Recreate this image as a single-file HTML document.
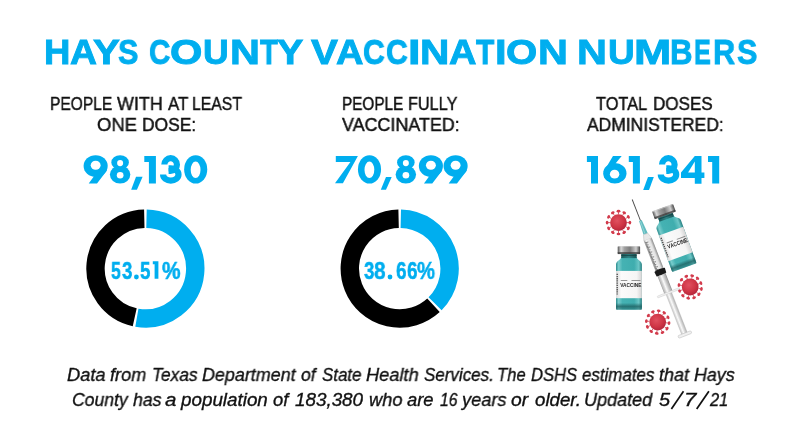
<!DOCTYPE html>
<html><head><meta charset="utf-8">
<style>
html,body{margin:0;padding:0;background:#fff;width:800px;height:443px;overflow:hidden;position:relative}
.t{position:absolute;transform-origin:0 0;will-change:transform;white-space:nowrap;font-family:"Liberation Sans",sans-serif;line-height:1}
</style></head><body>
<!--TEXT-->
<div class="t" id="tl0" style="left:43.99px;top:35.26px;font-size:35.60px;transform:scaleX(1.0252);font-weight:bold;color:#00AEEF;-webkit-text-stroke:0.9px #00AEEF;">H</div>
<div class="t" id="tl1" style="left:70.17px;top:35.26px;font-size:35.60px;transform:scaleX(1.0500);font-weight:bold;color:#00AEEF;-webkit-text-stroke:0.9px #00AEEF;">A</div>
<div class="t" id="tl2" style="left:93.24px;top:35.26px;font-size:35.60px;transform:scaleX(1.1317);font-weight:bold;color:#00AEEF;-webkit-text-stroke:0.9px #00AEEF;">Y</div>
<div class="t" id="tl3" style="left:118.31px;top:35.26px;font-size:35.60px;transform:scaleX(0.8562);font-weight:bold;color:#00AEEF;-webkit-text-stroke:0.9px #00AEEF;">S</div>
<div class="t" id="tl4" style="left:148.74px;top:35.26px;font-size:35.60px;transform:scaleX(0.8283);font-weight:bold;color:#00AEEF;-webkit-text-stroke:0.9px #00AEEF;">C</div>
<div class="t" id="tl5" style="left:170.22px;top:35.26px;font-size:35.60px;transform:scaleX(1.1692);font-weight:bold;color:#00AEEF;-webkit-text-stroke:0.9px #00AEEF;">O</div>
<div class="t" id="tl6" style="left:202.68px;top:35.26px;font-size:35.60px;transform:scaleX(0.9932);font-weight:bold;color:#00AEEF;-webkit-text-stroke:0.9px #00AEEF;">U</div>
<div class="t" id="tl7" style="left:229.72px;top:35.26px;font-size:35.60px;transform:scaleX(1.1650);font-weight:bold;color:#00AEEF;-webkit-text-stroke:0.9px #00AEEF;">N</div>
<div class="t" id="tl8" style="left:259.58px;top:35.26px;font-size:35.60px;transform:scaleX(0.8127);font-weight:bold;color:#00AEEF;-webkit-text-stroke:0.9px #00AEEF;">T</div>
<div class="t" id="tl9" style="left:276.75px;top:35.26px;font-size:35.60px;transform:scaleX(1.1095);font-weight:bold;color:#00AEEF;-webkit-text-stroke:0.9px #00AEEF;">Y</div>
<div class="t" id="tl10" style="left:311.43px;top:35.26px;font-size:35.60px;transform:scaleX(1.1347);font-weight:bold;color:#00AEEF;-webkit-text-stroke:0.9px #00AEEF;">V</div>
<div class="t" id="tl11" style="left:335.65px;top:35.26px;font-size:35.60px;transform:scaleX(1.0706);font-weight:bold;color:#00AEEF;-webkit-text-stroke:0.9px #00AEEF;">A</div>
<div class="t" id="tl12" style="left:363.20px;top:35.26px;font-size:35.60px;transform:scaleX(0.8496);font-weight:bold;color:#00AEEF;-webkit-text-stroke:0.9px #00AEEF;">C</div>
<div class="t" id="tl13" style="left:385.70px;top:35.26px;font-size:35.60px;transform:scaleX(0.8496);font-weight:bold;color:#00AEEF;-webkit-text-stroke:0.9px #00AEEF;">C</div>
<div class="t" id="tl14" style="left:407.52px;top:35.26px;font-size:35.60px;transform:scaleX(1.2678);font-weight:bold;color:#00AEEF;-webkit-text-stroke:0.9px #00AEEF;">I</div>
<div class="t" id="tl15" style="left:420.27px;top:35.26px;font-size:35.60px;transform:scaleX(1.1417);font-weight:bold;color:#00AEEF;-webkit-text-stroke:0.9px #00AEEF;">N</div>
<div class="t" id="tl16" style="left:449.15px;top:35.26px;font-size:35.60px;transform:scaleX(1.0706);font-weight:bold;color:#00AEEF;-webkit-text-stroke:0.9px #00AEEF;">A</div>
<div class="t" id="tl17" style="left:476.07px;top:35.26px;font-size:35.60px;transform:scaleX(0.8366);font-weight:bold;color:#00AEEF;-webkit-text-stroke:0.9px #00AEEF;">T</div>
<div class="t" id="tl18" style="left:494.70px;top:35.26px;font-size:35.60px;transform:scaleX(1.1772);font-weight:bold;color:#00AEEF;-webkit-text-stroke:0.9px #00AEEF;">I</div>
<div class="t" id="tl19" style="left:506.28px;top:35.26px;font-size:35.60px;transform:scaleX(1.1289);font-weight:bold;color:#00AEEF;-webkit-text-stroke:0.9px #00AEEF;">O</div>
<div class="t" id="tl20" style="left:537.72px;top:35.26px;font-size:35.60px;transform:scaleX(1.1650);font-weight:bold;color:#00AEEF;-webkit-text-stroke:0.9px #00AEEF;">N</div>
<div class="t" id="tl21" style="left:576.72px;top:35.26px;font-size:35.60px;transform:scaleX(1.1650);font-weight:bold;color:#00AEEF;-webkit-text-stroke:0.9px #00AEEF;">N</div>
<div class="t" id="tl22" style="left:607.59px;top:35.26px;font-size:35.60px;transform:scaleX(1.0394);font-weight:bold;color:#00AEEF;-webkit-text-stroke:0.9px #00AEEF;">U</div>
<div class="t" id="tl23" style="left:633.54px;top:35.26px;font-size:35.60px;transform:scaleX(1.2579);font-weight:bold;color:#00AEEF;-webkit-text-stroke:0.9px #00AEEF;">M</div>
<div class="t" id="tl24" style="left:670.29px;top:35.26px;font-size:35.60px;transform:scaleX(0.8756);font-weight:bold;color:#00AEEF;-webkit-text-stroke:0.9px #00AEEF;">B</div>
<div class="t" id="tl25" style="left:694.11px;top:35.26px;font-size:35.60px;transform:scaleX(0.7081);font-weight:bold;color:#00AEEF;-webkit-text-stroke:0.9px #00AEEF;">E</div>
<div class="t" id="tl26" style="left:712.81px;top:35.26px;font-size:35.60px;transform:scaleX(0.8618);font-weight:bold;color:#00AEEF;-webkit-text-stroke:0.9px #00AEEF;">R</div>
<div class="t" id="tl27" style="left:736.81px;top:35.26px;font-size:35.60px;transform:scaleX(0.8562);font-weight:bold;color:#00AEEF;-webkit-text-stroke:0.9px #00AEEF;">S</div>
<div class="t" id="s1a0" style="left:49.50px;top:94.84px;font-size:18.84px;transform:scaleX(0.8266);color:#111;-webkit-text-stroke:0.45px #111;">PEOPLE</div>
<div class="t" id="s1a1" style="left:116.75px;top:94.84px;font-size:18.84px;transform:scaleX(0.9522);color:#111;-webkit-text-stroke:0.45px #111;">WITH</div>
<div class="t" id="s1a2" style="left:167.95px;top:94.84px;font-size:18.84px;transform:scaleX(0.8921);color:#111;-webkit-text-stroke:0.45px #111;">AT</div>
<div class="t" id="s1a3" style="left:191.99px;top:94.84px;font-size:18.84px;transform:scaleX(0.8376);color:#111;-webkit-text-stroke:0.45px #111;">LEAST</div>
<div class="t" id="s1b0" style="left:96.86px;top:116.04px;font-size:18.84px;transform:scaleX(0.9796);color:#111;-webkit-text-stroke:0.45px #111;">ONE</div>
<div class="t" id="s1b1" style="left:141.77px;top:116.04px;font-size:18.84px;transform:scaleX(0.9260);color:#111;-webkit-text-stroke:0.45px #111;">DOSE:</div>
<div class="t" id="s2a0" style="left:342.32px;top:94.84px;font-size:18.84px;transform:scaleX(0.8137);color:#111;-webkit-text-stroke:0.45px #111;">PEOPLE</div>
<div class="t" id="s2a1" style="left:408.16px;top:94.84px;font-size:18.84px;transform:scaleX(0.8631);color:#111;-webkit-text-stroke:0.45px #111;">FULLY</div>
<div class="t" id="s2b" style="left:342.23px;top:116.24px;font-size:18.84px;transform:scaleX(0.9504);color:#111;-webkit-text-stroke:0.45px #111;">VACCINATED:</div>
<div class="t" id="s3a0" style="left:595.98px;top:94.84px;font-size:18.84px;transform:scaleX(0.8671);color:#111;-webkit-text-stroke:0.45px #111;">TOTAL</div>
<div class="t" id="s3a1" style="left:652.90px;top:94.84px;font-size:18.84px;transform:scaleX(0.9066);color:#111;-webkit-text-stroke:0.45px #111;">DOSES</div>
<div class="t" id="s3b" style="left:586.84px;top:116.24px;font-size:18.84px;transform:scaleX(0.9268);color:#111;-webkit-text-stroke:0.45px #111;">ADMINISTERED:</div>
<div class="t" id="p1_0" style="left:110.59px;top:258.63px;font-size:24.40px;transform:scaleX(0.7222);font-weight:bold;color:#00AEEF;-webkit-text-stroke:0.5px #00AEEF;">5</div>
<div class="t" id="p1_1" style="left:121.51px;top:258.63px;font-size:24.40px;transform:scaleX(0.7650);font-weight:bold;color:#00AEEF;-webkit-text-stroke:0.5px #00AEEF;">3</div>
<div class="t" id="p1_2" style="left:140.15px;top:258.63px;font-size:24.40px;transform:scaleX(0.7715);font-weight:bold;color:#00AEEF;-webkit-text-stroke:0.5px #00AEEF;">5</div>
<div class="t" id="p1_3" style="left:162.44px;top:258.63px;font-size:24.40px;transform:scaleX(0.8541);font-weight:bold;color:#00AEEF;-webkit-text-stroke:0.5px #00AEEF;">%</div>
<div class="t" id="p2_0" style="left:364.01px;top:258.63px;font-size:24.40px;transform:scaleX(0.7650);font-weight:bold;color:#00AEEF;-webkit-text-stroke:0.5px #00AEEF;">3</div>
<div class="t" id="p2_1" style="left:374.36px;top:258.63px;font-size:24.40px;transform:scaleX(0.8554);font-weight:bold;color:#00AEEF;-webkit-text-stroke:0.5px #00AEEF;">8</div>
<div class="t" id="p2_2" style="left:395.87px;top:258.63px;font-size:24.40px;transform:scaleX(0.7761);font-weight:bold;color:#00AEEF;-webkit-text-stroke:0.5px #00AEEF;">6</div>
<div class="t" id="p2_3" style="left:407.37px;top:258.63px;font-size:24.40px;transform:scaleX(0.7761);font-weight:bold;color:#00AEEF;-webkit-text-stroke:0.5px #00AEEF;">6</div>
<div class="t" id="p2_4" style="left:416.96px;top:258.63px;font-size:24.40px;transform:scaleX(0.8297);font-weight:bold;color:#00AEEF;-webkit-text-stroke:0.5px #00AEEF;">%</div>
<div class="t" id="f1_0" style="left:66.77px;top:366.44px;font-size:18.40px;transform:scaleX(0.9936);font-style:italic;color:#111;-webkit-text-stroke:0.35px #111;">Data</div>
<div class="t" id="f1_1" style="left:110.42px;top:366.44px;font-size:18.40px;transform:scaleX(0.9856);font-style:italic;color:#111;-webkit-text-stroke:0.35px #111;">from</div>
<div class="t" id="f1_2" style="left:151.53px;top:366.44px;font-size:18.40px;transform:scaleX(0.9411);font-style:italic;color:#111;-webkit-text-stroke:0.35px #111;">Texas</div>
<div class="t" id="f1_3" style="left:201.88px;top:366.44px;font-size:18.40px;transform:scaleX(0.9739);font-style:italic;color:#111;-webkit-text-stroke:0.35px #111;">Department</div>
<div class="t" id="f1_4" style="left:301.16px;top:366.44px;font-size:18.40px;transform:scaleX(0.9525);font-style:italic;color:#111;-webkit-text-stroke:0.35px #111;">of</div>
<div class="t" id="f1_5" style="left:321.68px;top:366.44px;font-size:18.40px;transform:scaleX(0.9186);font-style:italic;color:#111;-webkit-text-stroke:0.35px #111;">State</div>
<div class="t" id="f1_6" style="left:366.07px;top:366.44px;font-size:18.40px;transform:scaleX(0.9904);font-style:italic;color:#111;-webkit-text-stroke:0.35px #111;">Health</div>
<div class="t" id="f1_7" style="left:423.57px;top:366.44px;font-size:18.40px;transform:scaleX(0.9239);font-style:italic;color:#111;-webkit-text-stroke:0.35px #111;">Services.</div>
<div class="t" id="f1_8" style="left:496.98px;top:366.44px;font-size:18.40px;transform:scaleX(0.9049);font-style:italic;color:#111;-webkit-text-stroke:0.35px #111;">The</div>
<div class="t" id="f1_9" style="left:530.61px;top:366.44px;font-size:18.40px;transform:scaleX(0.9033);font-style:italic;color:#111;-webkit-text-stroke:0.35px #111;">DSHS</div>
<div class="t" id="f1_10" style="left:582.16px;top:366.44px;font-size:18.40px;transform:scaleX(0.9191);font-style:italic;color:#111;-webkit-text-stroke:0.35px #111;">estimates</div>
<div class="t" id="f1_11" style="left:658.97px;top:366.44px;font-size:18.40px;transform:scaleX(0.9823);font-style:italic;color:#111;-webkit-text-stroke:0.35px #111;">that</div>
<div class="t" id="f1_12" style="left:693.58px;top:366.44px;font-size:18.40px;transform:scaleX(0.9702);font-style:italic;color:#111;-webkit-text-stroke:0.35px #111;">Hays</div>
<div class="t" id="f2_0" style="left:71.56px;top:390.94px;font-size:18.40px;transform:scaleX(0.9570);font-style:italic;color:#111;-webkit-text-stroke:0.35px #111;">County</div>
<div class="t" id="f2_1" style="left:132.63px;top:390.94px;font-size:18.40px;transform:scaleX(0.9586);font-style:italic;color:#111;-webkit-text-stroke:0.35px #111;">has</div>
<div class="t" id="f2_2" style="left:165.40px;top:390.94px;font-size:18.40px;transform:scaleX(1.1134);font-style:italic;color:#111;-webkit-text-stroke:0.35px #111;">a</div>
<div class="t" id="f2_3" style="left:180.94px;top:390.94px;font-size:18.40px;transform:scaleX(1.0230);font-style:italic;color:#111;-webkit-text-stroke:0.35px #111;">population</div>
<div class="t" id="f2_4" style="left:272.94px;top:390.94px;font-size:18.40px;transform:scaleX(0.9947);font-style:italic;color:#111;-webkit-text-stroke:0.35px #111;">of</div>
<div class="t" id="f2_5" style="left:295.02px;top:390.94px;font-size:18.40px;transform:scaleX(1.0238);font-style:italic;color:#111;-webkit-text-stroke:0.35px #111;">183,380</div>
<div class="t" id="f2_6" style="left:368.52px;top:390.94px;font-size:18.40px;transform:scaleX(0.9933);font-style:italic;color:#111;-webkit-text-stroke:0.35px #111;">who</div>
<div class="t" id="f2_7" style="left:406.74px;top:390.94px;font-size:18.40px;transform:scaleX(0.9994);font-style:italic;color:#111;-webkit-text-stroke:0.35px #111;">are</div>
<div class="t" id="f2_8" style="left:439.58px;top:390.94px;font-size:18.40px;transform:scaleX(0.8548);font-style:italic;color:#111;-webkit-text-stroke:0.35px #111;">16</div>
<div class="t" id="f2_9" style="left:461.94px;top:390.94px;font-size:18.40px;transform:scaleX(0.9888);font-style:italic;color:#111;-webkit-text-stroke:0.35px #111;">years</div>
<div class="t" id="f2_10" style="left:511.01px;top:390.94px;font-size:18.40px;transform:scaleX(1.0492);font-style:italic;color:#111;-webkit-text-stroke:0.35px #111;">or</div>
<div class="t" id="f2_11" style="left:534.63px;top:390.94px;font-size:18.40px;transform:scaleX(1.0156);font-style:italic;color:#111;-webkit-text-stroke:0.35px #111;">older.</div>
<div class="t" id="f2_12" style="left:584.01px;top:390.94px;font-size:18.40px;transform:scaleX(0.9808);font-style:italic;color:#111;-webkit-text-stroke:0.35px #111;">Updated</div>
<div class="t" id="f2_13_0" style="left:659.22px;top:390.94px;font-size:18.40px;transform:scaleX(1.0817);font-style:italic;color:#111;-webkit-text-stroke:0.35px #111;">5</div>
<div class="t" id="f2_13_1" style="left:683.65px;top:390.94px;font-size:18.40px;transform:scaleX(1.2105);font-style:italic;color:#111;-webkit-text-stroke:0.35px #111;">7</div>
<div class="t" id="f2_13_2" style="left:709.74px;top:390.94px;font-size:18.40px;transform:scaleX(0.8911);font-style:italic;color:#111;-webkit-text-stroke:0.35px #111;">21</div>
<!--/TEXT-->
<svg width="800" height="443" style="position:absolute;left:0;top:0">
<defs>
<radialGradient id="vg" cx="0.42" cy="0.38" r="0.65"><stop offset="0" stop-color="#e0505f"/><stop offset="0.6" stop-color="#cf3646"/><stop offset="1" stop-color="#b3243a"/></radialGradient>
<linearGradient id="capg" x1="0" x2="1"><stop offset="0" stop-color="#555"/><stop offset="0.15" stop-color="#d8d8d8"/><stop offset="0.3" stop-color="#a0a0a0"/><stop offset="0.55" stop-color="#7c7c7c"/><stop offset="0.82" stop-color="#cfcfcf"/><stop offset="1" stop-color="#4a4a4a"/></linearGradient>
<linearGradient id="tealg" x1="0" x2="1"><stop offset="0" stop-color="#2b8c8e"/><stop offset="0.1" stop-color="#78cccc"/><stop offset="0.25" stop-color="#45b2b3"/><stop offset="0.7" stop-color="#3fadae"/><stop offset="0.88" stop-color="#6cc6c6"/><stop offset="1" stop-color="#267e80"/></linearGradient>
<linearGradient id="neckg" x1="0" x2="1"><stop offset="0" stop-color="#1c5c5d"/><stop offset="0.5" stop-color="#2f8586"/><stop offset="1" stop-color="#1a5354"/></linearGradient>
<linearGradient id="labg" x1="0" x2="1"><stop offset="0" stop-color="#d9d9d9"/><stop offset="0.2" stop-color="#fbfbfb"/><stop offset="0.8" stop-color="#f5f5f5"/><stop offset="1" stop-color="#d4d4d4"/></linearGradient>
<linearGradient id="botg" x1="0" x2="0" y1="0" y2="1"><stop offset="0" stop-color="#1d5e5f" stop-opacity="0"/><stop offset="0.5" stop-color="#1d5e5f" stop-opacity="0.75"/><stop offset="1" stop-color="#1d5e5f" stop-opacity="0.35"/></linearGradient>
<linearGradient id="barg" x1="0" x2="1"><stop offset="0" stop-color="#9a9a9a"/><stop offset="0.25" stop-color="#f4f4f4"/><stop offset="0.7" stop-color="#e2e2e2"/><stop offset="1" stop-color="#8a8a8a"/></linearGradient>
<linearGradient id="rodg" x1="0" x2="1"><stop offset="0" stop-color="#c4c4c4"/><stop offset="0.4" stop-color="#fafafa"/><stop offset="1" stop-color="#b0b0b0"/></linearGradient>
<g id="vial">
<path d="M-7.8,11 C-8,14.5 -13,14.5 -13,18.5 L-13,62.4 Q-13,63.9 -11.5,63.9 L11.4,63.9 Q12.9,63.9 12.9,62.4 L12.9,18.5 C12.9,14.5 7.9,14.5 7.7,11 Z" fill="url(#tealg)"/>
<rect x="-7.8" y="7.6" width="15.5" height="4.6" fill="url(#neckg)"/>
<rect x="-7.8" y="9" width="15.5" height="1.2" fill="#123d3e" opacity="0.7"/>
<rect x="-13" y="25" width="25.9" height="27.3" fill="url(#labg)"/>
<rect x="-13" y="57" width="25.9" height="6.9" fill="url(#botg)"/>
<rect x="-11.3" y="0" width="22.4" height="8.2" rx="1.2" fill="url(#capg)"/>
<rect x="-11.3" y="6.2" width="22.4" height="2" fill="#3a3a3a" opacity="0.75"/>
<rect x="-11" y="0.2" width="21.8" height="0.8" fill="#ddd" opacity="0.6"/>
<text x="-8.7" y="40.7" font-family="Liberation Sans" font-weight="bold" font-size="6" fill="#1e1e1e" textLength="21" lengthAdjust="spacingAndGlyphs">VACCINE</text>
<rect x="-8.2" y="34.2" width="6.5" height="0.9" fill="#8a8a8a"/><rect x="2.5" y="34.2" width="9" height="0.9" fill="#8a8a8a"/>
<g stroke="#444" stroke-width="1.3" stroke-dasharray="1.3 0.9"><line x1="-11.8" y1="27.8" x2="-11.8" y2="48.6"/></g>
</g>
</defs>
<ellipse cx="95.65" cy="166.00" rx="12.05" ry="10.8" fill="#00AEEF"/><polygon points="88.70,183.60 97.00,183.60 106.95,170.50 98.65,168.00 94.15,176.00" fill="#00AEEF"/><ellipse cx="95.65" cy="165.25" rx="4.95" ry="4.55" fill="#fff"/><ellipse cx="120.10" cy="162.40" rx="8.8" ry="7.25" fill="#00AEEF"/><ellipse cx="120.10" cy="174.60" rx="10.2" ry="9.0" fill="#00AEEF"/><ellipse cx="120.10" cy="163.05" rx="3.0" ry="3.15" fill="#fff"/><ellipse cx="120.15" cy="175.20" rx="3.35" ry="3.25" fill="#fff"/><path d="M144.3,155.9 H155.9 V183.6 H148.9 V161.9 H144.3 Z" fill="#00AEEF"/><g transform="translate(0.00,0)" fill="none" stroke="#00AEEF" stroke-width="6.2"><path d="M164.35,164.6 A6.28,6.4 0 1 1 170.6,171 L168.6,171"/><path d="M168.6,168.4 L170.8,168.4 A7.7,6.1 0 1 1 163.1,174.5"/></g><ellipse cx="195.70" cy="169.40" rx="11.55" ry="14.2" fill="#00AEEF"/><ellipse cx="195.60" cy="169.80" rx="4.9" ry="8.3" fill="#fff"/><polygon points="136.00,176.80 142.60,176.80 136.90,189.70 131.20,189.70" fill="#00AEEF"/><polygon points="335.80,155.90 357.90,155.90 342.90,183.30 335.00,183.30 350.40,161.90 335.80,161.90" fill="#00AEEF"/><ellipse cx="369.50" cy="169.40" rx="11.55" ry="14.2" fill="#00AEEF"/><ellipse cx="369.40" cy="169.80" rx="4.9" ry="8.3" fill="#fff"/><ellipse cx="405.85" cy="162.40" rx="8.8" ry="7.25" fill="#00AEEF"/><ellipse cx="405.85" cy="174.60" rx="10.2" ry="9.0" fill="#00AEEF"/><ellipse cx="405.85" cy="163.05" rx="3.0" ry="3.15" fill="#fff"/><ellipse cx="405.90" cy="175.20" rx="3.35" ry="3.25" fill="#fff"/><ellipse cx="430.90" cy="166.00" rx="12.05" ry="10.8" fill="#00AEEF"/><polygon points="423.95,183.60 432.25,183.60 442.20,170.50 433.90,168.00 429.40,176.00" fill="#00AEEF"/><ellipse cx="430.90" cy="165.25" rx="4.95" ry="4.55" fill="#fff"/><ellipse cx="455.60" cy="166.00" rx="12.05" ry="10.8" fill="#00AEEF"/><polygon points="448.65,183.60 456.95,183.60 466.90,170.50 458.60,168.00 454.10,176.00" fill="#00AEEF"/><ellipse cx="455.60" cy="165.25" rx="4.95" ry="4.55" fill="#fff"/><polygon points="386.00,176.90 391.70,176.90 386.00,189.70 380.80,189.70" fill="#00AEEF"/><path d="M586.9,155.9 H598 V183.6 H591 V161.9 H586.9 Z" fill="#00AEEF"/><ellipse cx="614.85" cy="173.30" rx="11.65" ry="10.3" fill="#00AEEF"/><polygon points="613.00,155.90 621.70,155.90 611.35,168.50 603.45,172.00" fill="#00AEEF"/><ellipse cx="614.60" cy="174.15" rx="4.7" ry="4.35" fill="#fff"/><path d="M628.8,155.9 H639.9 V183.6 H632.9 V161.9 H628.8 Z" fill="#00AEEF"/><g transform="translate(497.70,0)" fill="none" stroke="#00AEEF" stroke-width="6.2"><path d="M164.35,164.6 A6.28,6.4 0 1 1 170.6,171 L168.6,171"/><path d="M168.6,168.4 L170.8,168.4 A7.7,6.1 0 1 1 163.1,174.5"/></g><polygon points="694.80,155.90 701.50,155.90 701.50,172.50 704.40,172.50 704.40,178.00 701.50,178.00 701.50,183.80 694.80,183.80 694.80,178.00 681.00,178.00 681.00,172.50" fill="#00AEEF"/><polygon points="694.80,161.60 694.80,172.50 688.10,172.50" fill="#fff"/><path d="M708,155.9 H719.2 V183.6 H712.2 V161.9 H708 Z" fill="#00AEEF"/><polygon points="648.00,177.10 653.80,177.10 649.00,189.90 643.20,189.90" fill="#00AEEF"/>
<line x1="671.4" y1="409.1" x2="683.5" y2="391.3" stroke="#111" stroke-width="1.7"/>
<line x1="696.7" y1="409.1" x2="708.9" y2="391.3" stroke="#111" stroke-width="1.7"/>
<circle cx="136.4" cy="277" r="2.4" fill="#00AEEF"/><circle cx="390" cy="277" r="2.4" fill="#00AEEF"/>
<path d="M152.8,261.3 H158.4 V278.8 H154.6 V264.3 H152.8 Z" fill="#00AEEF"/>
<path d="M146.50,218.71 A49.900000000000006,49.900000000000006 0 1 1 136.87,317.77" fill="none" stroke="#00AEEF" stroke-width="18.4"/>
<path d="M134.72,317.34 A49.900000000000006,49.900000000000006 0 0 1 144.30,218.71" fill="none" stroke="#000" stroke-width="18.4"/>
<path d="M400.80,218.71 A49.900000000000006,49.900000000000006 0 0 1 435.08,303.78" fill="none" stroke="#00AEEF" stroke-width="18.4"/>
<path d="M433.50,305.31 A49.900000000000006,49.900000000000006 0 1 1 398.60,218.71" fill="none" stroke="#000" stroke-width="18.4"/>
<g transform="translate(618.5,222.6)"><line x1="8.40" y1="0.00" x2="11.40" y2="0.00" stroke="#cf3a4b" stroke-width="0.8"/><ellipse cx="11.40" cy="0.00" rx="1.9" ry="1.35" fill="#d23a4b" transform="rotate(90.0 11.40 0.00)"/><line x1="7.27" y1="4.20" x2="9.87" y2="5.70" stroke="#cf3a4b" stroke-width="0.8"/><ellipse cx="9.87" cy="5.70" rx="1.9" ry="1.35" fill="#d23a4b" transform="rotate(120.0 9.87 5.70)"/><line x1="4.20" y1="7.27" x2="5.70" y2="9.87" stroke="#cf3a4b" stroke-width="0.8"/><ellipse cx="5.70" cy="9.87" rx="1.9" ry="1.35" fill="#d23a4b" transform="rotate(150.0 5.70 9.87)"/><line x1="0.00" y1="8.40" x2="0.00" y2="11.40" stroke="#cf3a4b" stroke-width="0.8"/><ellipse cx="0.00" cy="11.40" rx="1.9" ry="1.35" fill="#d23a4b" transform="rotate(180.0 0.00 11.40)"/><line x1="-4.20" y1="7.27" x2="-5.70" y2="9.87" stroke="#cf3a4b" stroke-width="0.8"/><ellipse cx="-5.70" cy="9.87" rx="1.9" ry="1.35" fill="#d23a4b" transform="rotate(210.0 -5.70 9.87)"/><line x1="-7.27" y1="4.20" x2="-9.87" y2="5.70" stroke="#cf3a4b" stroke-width="0.8"/><ellipse cx="-9.87" cy="5.70" rx="1.9" ry="1.35" fill="#d23a4b" transform="rotate(240.0 -9.87 5.70)"/><line x1="-8.40" y1="0.00" x2="-11.40" y2="0.00" stroke="#cf3a4b" stroke-width="0.8"/><ellipse cx="-11.40" cy="0.00" rx="1.9" ry="1.35" fill="#d23a4b" transform="rotate(270.0 -11.40 0.00)"/><line x1="-7.27" y1="-4.20" x2="-9.87" y2="-5.70" stroke="#cf3a4b" stroke-width="0.8"/><ellipse cx="-9.87" cy="-5.70" rx="1.9" ry="1.35" fill="#d23a4b" transform="rotate(300.0 -9.87 -5.70)"/><line x1="-4.20" y1="-7.27" x2="-5.70" y2="-9.87" stroke="#cf3a4b" stroke-width="0.8"/><ellipse cx="-5.70" cy="-9.87" rx="1.9" ry="1.35" fill="#d23a4b" transform="rotate(330.0 -5.70 -9.87)"/><line x1="-0.00" y1="-8.40" x2="-0.00" y2="-11.40" stroke="#cf3a4b" stroke-width="0.8"/><ellipse cx="-0.00" cy="-11.40" rx="1.9" ry="1.35" fill="#d23a4b" transform="rotate(360.0 -0.00 -11.40)"/><line x1="4.20" y1="-7.27" x2="5.70" y2="-9.87" stroke="#cf3a4b" stroke-width="0.8"/><ellipse cx="5.70" cy="-9.87" rx="1.9" ry="1.35" fill="#d23a4b" transform="rotate(390.0 5.70 -9.87)"/><line x1="7.27" y1="-4.20" x2="9.87" y2="-5.70" stroke="#cf3a4b" stroke-width="0.8"/><ellipse cx="9.87" cy="-5.70" rx="1.9" ry="1.35" fill="#d23a4b" transform="rotate(420.0 9.87 -5.70)"/><circle r="8.4" fill="url(#vg)"/></g>
<g transform="translate(690.2,287)"><line x1="8.27" y1="1.46" x2="11.23" y2="1.98" stroke="#cf3a4b" stroke-width="0.8"/><ellipse cx="11.23" cy="1.98" rx="1.9" ry="1.35" fill="#d23a4b" transform="rotate(100.0 11.23 1.98)"/><line x1="6.43" y1="5.40" x2="8.73" y2="7.33" stroke="#cf3a4b" stroke-width="0.8"/><ellipse cx="8.73" cy="7.33" rx="1.9" ry="1.35" fill="#d23a4b" transform="rotate(130.0 8.73 7.33)"/><line x1="2.87" y1="7.89" x2="3.90" y2="10.71" stroke="#cf3a4b" stroke-width="0.8"/><ellipse cx="3.90" cy="10.71" rx="1.9" ry="1.35" fill="#d23a4b" transform="rotate(160.0 3.90 10.71)"/><line x1="-1.46" y1="8.27" x2="-1.98" y2="11.23" stroke="#cf3a4b" stroke-width="0.8"/><ellipse cx="-1.98" cy="11.23" rx="1.9" ry="1.35" fill="#d23a4b" transform="rotate(190.0 -1.98 11.23)"/><line x1="-5.40" y1="6.43" x2="-7.33" y2="8.73" stroke="#cf3a4b" stroke-width="0.8"/><ellipse cx="-7.33" cy="8.73" rx="1.9" ry="1.35" fill="#d23a4b" transform="rotate(220.0 -7.33 8.73)"/><line x1="-7.89" y1="2.87" x2="-10.71" y2="3.90" stroke="#cf3a4b" stroke-width="0.8"/><ellipse cx="-10.71" cy="3.90" rx="1.9" ry="1.35" fill="#d23a4b" transform="rotate(250.0 -10.71 3.90)"/><line x1="-8.27" y1="-1.46" x2="-11.23" y2="-1.98" stroke="#cf3a4b" stroke-width="0.8"/><ellipse cx="-11.23" cy="-1.98" rx="1.9" ry="1.35" fill="#d23a4b" transform="rotate(280.0 -11.23 -1.98)"/><line x1="-6.43" y1="-5.40" x2="-8.73" y2="-7.33" stroke="#cf3a4b" stroke-width="0.8"/><ellipse cx="-8.73" cy="-7.33" rx="1.9" ry="1.35" fill="#d23a4b" transform="rotate(310.0 -8.73 -7.33)"/><line x1="-2.87" y1="-7.89" x2="-3.90" y2="-10.71" stroke="#cf3a4b" stroke-width="0.8"/><ellipse cx="-3.90" cy="-10.71" rx="1.9" ry="1.35" fill="#d23a4b" transform="rotate(340.0 -3.90 -10.71)"/><line x1="1.46" y1="-8.27" x2="1.98" y2="-11.23" stroke="#cf3a4b" stroke-width="0.8"/><ellipse cx="1.98" cy="-11.23" rx="1.9" ry="1.35" fill="#d23a4b" transform="rotate(370.0 1.98 -11.23)"/><line x1="5.40" y1="-6.43" x2="7.33" y2="-8.73" stroke="#cf3a4b" stroke-width="0.8"/><ellipse cx="7.33" cy="-8.73" rx="1.9" ry="1.35" fill="#d23a4b" transform="rotate(400.0 7.33 -8.73)"/><line x1="7.89" y1="-2.87" x2="10.71" y2="-3.90" stroke="#cf3a4b" stroke-width="0.8"/><ellipse cx="10.71" cy="-3.90" rx="1.9" ry="1.35" fill="#d23a4b" transform="rotate(430.0 10.71 -3.90)"/><circle r="8.4" fill="url(#vg)"/></g>
<g transform="translate(657.7,322.1)"><line x1="8.37" y1="0.73" x2="11.36" y2="0.99" stroke="#cf3a4b" stroke-width="0.8"/><ellipse cx="11.36" cy="0.99" rx="1.9" ry="1.35" fill="#d23a4b" transform="rotate(95.0 11.36 0.99)"/><line x1="6.88" y1="4.82" x2="9.34" y2="6.54" stroke="#cf3a4b" stroke-width="0.8"/><ellipse cx="9.34" cy="6.54" rx="1.9" ry="1.35" fill="#d23a4b" transform="rotate(125.0 9.34 6.54)"/><line x1="3.55" y1="7.61" x2="4.82" y2="10.33" stroke="#cf3a4b" stroke-width="0.8"/><ellipse cx="4.82" cy="10.33" rx="1.9" ry="1.35" fill="#d23a4b" transform="rotate(155.0 4.82 10.33)"/><line x1="-0.73" y1="8.37" x2="-0.99" y2="11.36" stroke="#cf3a4b" stroke-width="0.8"/><ellipse cx="-0.99" cy="11.36" rx="1.9" ry="1.35" fill="#d23a4b" transform="rotate(185.0 -0.99 11.36)"/><line x1="-4.82" y1="6.88" x2="-6.54" y2="9.34" stroke="#cf3a4b" stroke-width="0.8"/><ellipse cx="-6.54" cy="9.34" rx="1.9" ry="1.35" fill="#d23a4b" transform="rotate(215.0 -6.54 9.34)"/><line x1="-7.61" y1="3.55" x2="-10.33" y2="4.82" stroke="#cf3a4b" stroke-width="0.8"/><ellipse cx="-10.33" cy="4.82" rx="1.9" ry="1.35" fill="#d23a4b" transform="rotate(245.0 -10.33 4.82)"/><line x1="-8.37" y1="-0.73" x2="-11.36" y2="-0.99" stroke="#cf3a4b" stroke-width="0.8"/><ellipse cx="-11.36" cy="-0.99" rx="1.9" ry="1.35" fill="#d23a4b" transform="rotate(275.0 -11.36 -0.99)"/><line x1="-6.88" y1="-4.82" x2="-9.34" y2="-6.54" stroke="#cf3a4b" stroke-width="0.8"/><ellipse cx="-9.34" cy="-6.54" rx="1.9" ry="1.35" fill="#d23a4b" transform="rotate(305.0 -9.34 -6.54)"/><line x1="-3.55" y1="-7.61" x2="-4.82" y2="-10.33" stroke="#cf3a4b" stroke-width="0.8"/><ellipse cx="-4.82" cy="-10.33" rx="1.9" ry="1.35" fill="#d23a4b" transform="rotate(335.0 -4.82 -10.33)"/><line x1="0.73" y1="-8.37" x2="0.99" y2="-11.36" stroke="#cf3a4b" stroke-width="0.8"/><ellipse cx="0.99" cy="-11.36" rx="1.9" ry="1.35" fill="#d23a4b" transform="rotate(365.0 0.99 -11.36)"/><line x1="4.82" y1="-6.88" x2="6.54" y2="-9.34" stroke="#cf3a4b" stroke-width="0.8"/><ellipse cx="6.54" cy="-9.34" rx="1.9" ry="1.35" fill="#d23a4b" transform="rotate(395.0 6.54 -9.34)"/><line x1="7.61" y1="-3.55" x2="10.33" y2="-4.82" stroke="#cf3a4b" stroke-width="0.8"/><ellipse cx="10.33" cy="-4.82" rx="1.9" ry="1.35" fill="#d23a4b" transform="rotate(425.0 10.33 -4.82)"/><circle r="8.4" fill="url(#vg)"/></g>
<use href="#vial" transform="translate(629,245.9)"/>
<use href="#vial" transform="translate(662.6,207.6) rotate(-20)"/>
<g transform="translate(632.2,199.5) rotate(-21.3)">
<line x1="0" y1="0" x2="0" y2="23" stroke="#4a4a4a" stroke-width="0.9"/>
<path d="M-1.4,22.5 L1.4,22.5 L2.3,37 L-2.3,37 Z" fill="#62bcbf"/>
<line x1="-0.3" y1="23" x2="-0.5" y2="36.5" stroke="#a8e0e2" stroke-width="0.6"/>
<path d="M-2.3,37 L2.3,37 L4.2,43 L-4.2,43 Z" fill="#e8e8e8" stroke="#b0b0b0" stroke-width="0.4"/>
<rect x="-4.3" y="43" width="8.6" height="57" fill="url(#barg)"/>
<g stroke="#3a3a3a" stroke-width="0.55">
<line x1="-3.6" y1="45.00" x2="-0.40" y2="45.50"/><line x1="-3.6" y1="46.32" x2="-2.00" y2="46.82"/><line x1="-3.6" y1="47.64" x2="-1.20" y2="48.14"/><line x1="-3.6" y1="48.96" x2="-2.00" y2="49.46"/><line x1="-3.6" y1="50.28" x2="-0.40" y2="50.78"/><line x1="-3.6" y1="51.60" x2="-2.00" y2="52.10"/><line x1="-3.6" y1="52.92" x2="-1.20" y2="53.42"/><line x1="-3.6" y1="54.24" x2="-2.00" y2="54.74"/><line x1="-3.6" y1="55.56" x2="-0.40" y2="56.06"/><line x1="-3.6" y1="56.88" x2="-2.00" y2="57.38"/><line x1="-3.6" y1="58.20" x2="-1.20" y2="58.70"/><line x1="-3.6" y1="59.52" x2="-2.00" y2="60.02"/><line x1="-3.6" y1="60.84" x2="-0.40" y2="61.34"/><line x1="-3.6" y1="62.16" x2="-2.00" y2="62.66"/><line x1="-3.6" y1="63.48" x2="-1.20" y2="63.98"/><line x1="-3.6" y1="64.80" x2="-2.00" y2="65.30"/><line x1="-3.6" y1="66.12" x2="-0.40" y2="66.62"/><line x1="-3.6" y1="67.44" x2="-2.00" y2="67.94"/><line x1="-3.6" y1="68.76" x2="-1.20" y2="69.26"/><line x1="-3.6" y1="70.08" x2="-2.00" y2="70.58"/><line x1="-3.6" y1="71.40" x2="-0.40" y2="71.90"/><line x1="-3.6" y1="72.72" x2="-2.00" y2="73.22"/><line x1="-3.6" y1="74.04" x2="-1.20" y2="74.54"/><line x1="-3.6" y1="75.36" x2="-2.00" y2="75.86"/></g>
<path d="M-5.6,75.5 Q0,73.8 5.6,75.5 L5.2,80.5 Q0,82 -5.2,80.5 Z" fill="#1a1a1a"/>
<rect x="-3" y="81" width="6" height="63" fill="url(#rodg)" stroke="#b8b8b8" stroke-width="0.3"/>
<rect x="-12" y="99.2" width="24" height="1.8" rx="0.9" fill="#f2f2f2" stroke="#c4c4c4" stroke-width="0.4"/>
<rect x="-7" y="143.5" width="14" height="2.8" rx="1" fill="#f0f0f0" stroke="#b0b0b0" stroke-width="0.4"/>
</g>
</svg>
</body></html>
